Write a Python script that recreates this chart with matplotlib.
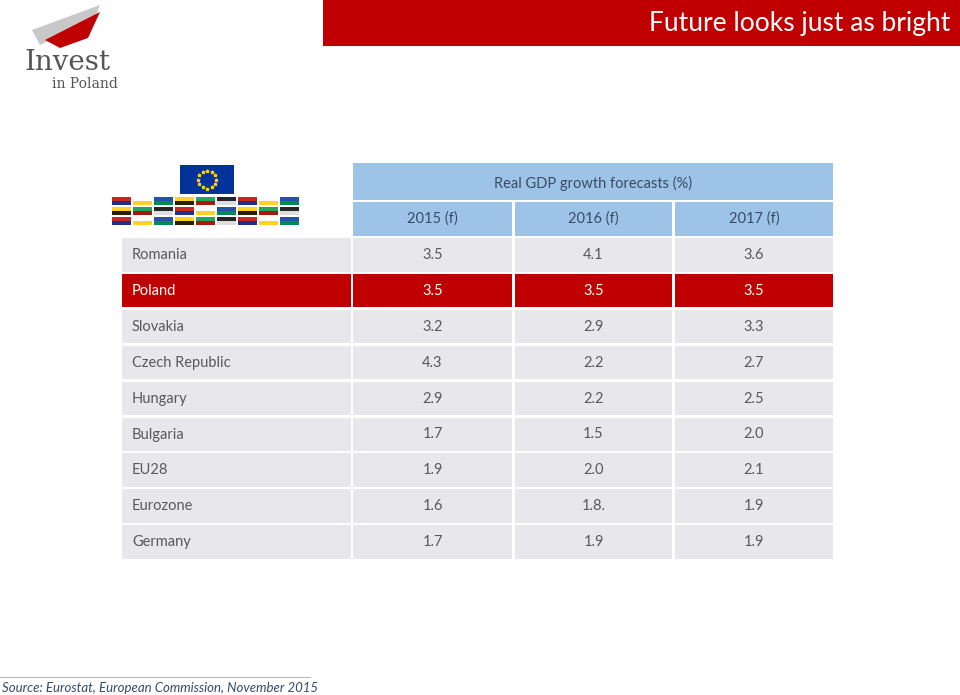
import matplotlib
matplotlib.use("Agg")
import matplotlib.pyplot as plt
from matplotlib.patches import Rectangle, Polygon
import numpy as np

countries = ["Romania", "Poland", "Slovakia", "Czech Republic", "Hungary", "Bulgaria", "EU28", "Eurozone", "Germany"]
years = ["2015 (f)", "2016 (f)", "2017 (f)"]
v2015 = ["3.5", "3.5", "3.2", "4.3", "2.9", "1.7", "1.9", "1.6", "1.7"]
v2016 = ["4.1", "3.5", "2.9", "2.2", "2.2", "1.5", "2.0", "1.8.", "1.9"]
v2017 = ["3.6", "3.5", "3.3", "2.7", "2.5", "2.0", "2.1", "1.9", "1.9"]
header = "Real GDP growth forecasts (%)"
title = "Future looks just as bright"
source = "Source: Eurostat, European Commission, November 2015"

plt.rcParams["font.family"] = "Lato"
fig = plt.figure(figsize=(9.6, 6.95), dpi=100)
ax = fig.add_axes([0, 0, 1, 1])
ax.set_xlim(0, 960); ax.set_ylim(695, 0); ax.axis("off")

RED = "#C00000"; BLUE = "#9DC3E6"; GRAY = "#E7E7EC"; TXT = "#595959"

ax.add_patch(Rectangle((323, 0), 637, 46, color=RED, lw=0))
ax.text(950, 24, title, color="white", fontsize=19, ha="right", va="center")

# logo
ax.add_patch(Polygon([[32, 30], [100, 5], [95, 18], [40, 45]], color="#C8C8C8", lw=0))
ax.add_patch(Polygon([[45, 40], [100, 12], [88, 38], [60, 48]], color=RED, lw=0))
ax.text(24, 62, "Invest", fontsize=20, color="#555555", va="center", family="DejaVu Serif")
ax.text(52, 84, "in Poland", fontsize=10, color="#555555", va="center", family="DejaVu Serif")

# flags
ax.add_patch(Rectangle((180, 165), 54, 29, color="#003399", lw=0))
th = np.linspace(0, 2*np.pi, 13)[:-1]
ax.scatter(207 + 9*np.cos(th), 179.5 + 9*np.sin(th), s=4, color="#FFCC00", marker="*", zorder=3)
cols = ["#C00000", "#FFFFFF", "#003399", "#FFCC00", "#009246", "#000000"]
k = 0
for r in range(3):
    for c in range(9):
        x = 112 + c*21; y = 197 + r*10
        ax.add_patch(Rectangle((x, y), 19, 8, color=cols[k % 6], lw=0, alpha=0.85))
        ax.add_patch(Rectangle((x, y + 4), 19, 4, color=cols[(k+2) % 6], lw=0, alpha=0.85))
        k += 1

ax.add_patch(Rectangle((353, 163), 480, 37, color=BLUE, lw=0))
ax.text(593, 183, header, fontsize=10.5, color="#3A4A6A", ha="center", va="center")
colx = [(353, 159), (515, 157), (675, 158)]
for (x, w), y in zip(colx, years):
    ax.add_patch(Rectangle((x, 202), w, 34, color=BLUE, lw=0))
    ax.text(x + w/2, 219, y, fontsize=10.5, color="#3A4A6A", ha="center", va="center")

for i, name in enumerate(countries):
    y0 = 238 + i*35.9
    fc = RED if name == "Poland" else GRAY
    tc = "white" if name == "Poland" else TXT
    ax.add_patch(Rectangle((122, y0), 229, 33.5, color=fc, lw=0))
    ax.text(132, y0 + 17, name, fontsize=10.5, color=tc, va="center")
    for (x, w), v in zip(colx, [v2015[i], v2016[i], v2017[i]]):
        ax.add_patch(Rectangle((x, y0), w, 33.5, color=fc, lw=0))
        ax.text(x + w/2, y0 + 17, v, fontsize=10.5, color=tc, ha="center", va="center")

ax.plot([0, 310], [677, 677], color="#BBBBBB", lw=0.8)
ax.text(2, 688, source, fontsize=9.5, style="italic", color="#3A4A6A", va="center")

fig.savefig("out.png", dpi=100)
